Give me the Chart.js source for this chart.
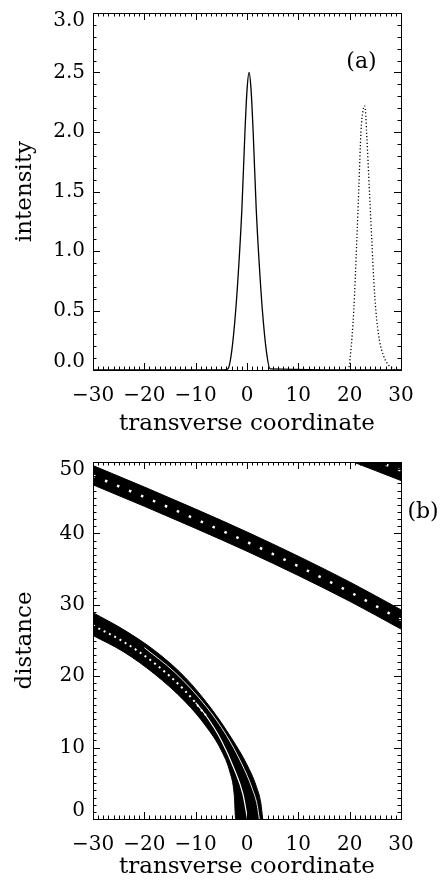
<!DOCTYPE html>
<html>
<head>
<meta charset="utf-8">
<title>intensity / distance</title>
<script src="https://cdn.jsdelivr.net/npm/chart.js@4.4.0/dist/chart.umd.min.js"></script>
<style>
  html, body { margin: 0; padding: 0; background: #fff; }
  .panel { position: relative; width: 441px; height: 441px; }
</style>
</head>
<body>
<div class="panel"><canvas id="chart-a" width="441" height="441"></canvas></div>
<div class="panel"><canvas id="chart-b" width="441" height="441"></canvas></div>
<script>
// tick values
const xTicks = [-30, -20, -10, 0, 10, 20, 30];
const intensityTicks = [0, 0.5, 1, 1.5, 2, 2.5, 3];
const distanceTicks = [0, 10, 20, 30, 40, 50];

// (a) input beam (solid) and output beam (dotted)
const inputX = [-30, -4.5, -3.7, -3, -2.2, -1.5, -1, -0.4, 0, 0.4, 0.8, 1.2, 1.8, 2.3, 3, 3.8, 4.5, 30];
const inputY = [0, 0, 0.01, 0.15, 0.5, 0.95, 1.35, 2.0, 2.35, 2.5, 2.35, 2.0, 1.35, 0.95, 0.5, 0.15, 0.01, 0];
const outputX = [19, 19.7, 20.2, 20.8, 21.4, 21.8, 22.2, 22.6, 22.9, 23.1, 23.3, 23.8, 24.3, 24.7, 25.1, 25.8, 26.6, 27.4, 28.2, 29, 30];
const outputY = [0, 0, 0.15, 0.5, 1.1, 1.55, 2.0, 2.18, 2.22, 2.17, 2.0, 1.55, 1.1, 0.75, 0.5, 0.25, 0.12, 0.05, 0.02, 0, 0];

// (b) lower beam track: outer and inner edges
const lowOuterX = [-30, -24, -18, -12, -7, -3, 0, 1.8, 2.7, 3.06];
const lowOuterY = [28.9, 26.5, 23.6, 19.8, 15.5, 11.3, 7.6, 4.6, 2.2, 0];
const lowInnerX = [-30, -24, -18, -12, -8, -5, -3.3, -2.5, -2.2, 3.06];
const lowInnerY = [25.7, 23.4, 20.3, 16.4, 13.0, 9.6, 6.5, 3.5, 0, 0];
// white streaks inside the lower track
const lowDotsX = [-30, -24, -18, -12, -8];
const lowDotsY = [27.1, 24.8, 21.8, 17.9, 14.5];
const lowCoreX = [-10, -8, -5, -2.5, -0.8, 0.1];
const lowCoreY = [16.3, 14.5, 11.0, 7.0, 3.5, 0];
const lowGapX = [-20, -14, -8, -4, -1, 1.0, 2.0, 2.4];
const lowGapY = [24.0, 20.5, 15.8, 11.7, 7.7, 4.3, 1.9, 0];

// (b) middle track
const midTopX = [-30, -20, -10, 0, 10, 20, 30];
const midTopY = [49.5, 46.5, 43.4, 40.2, 36.8, 33.2, 29.3];
const midBotX = [-30, -20, -10, 0, 10, 20, 30];
const midBotY = [46.8, 43.8, 40.7, 37.5, 34.1, 30.5, 26.6];
const midDotsX = [-30, -20, -10, 0, 10, 20, 30];
const midDotsY = [48.1, 45.1, 42.0, 38.8, 35.4, 31.8, 27.9];

// (b) top-right track
const topTopX = [20, 25, 30];
const topTopY = [53.0, 51.6, 50.2];
const topBotX = [20, 25, 30];
const topBotY = [50.2, 48.8, 47.4];
const topDotsX = [20, 25, 30];
const topDotsY = [51.6, 50.2, 48.8];

const FONT = "'DejaVu Serif', 'Liberation Serif', serif";

const pts = (xs, ys) => xs.map((x, i) => ({ x: x, y: ys[i] }));
const minus = v => (v < 0 ? '\u2212' + Math.abs(v) : String(v));
// shift the end labels inward like the original
const edgeLabel = (txt, v, lo, hi) => {
    if (v === hi) return ['', txt];
    if (v === lo) return [txt, ''];
    return txt;
};

// frame with inward major/minor ticks on all four sides
const frameTicks = {
    id: 'frameTicks',
    afterDatasetsDraw(chart, args, opts) {
        const { ctx, chartArea: a } = chart;
        const sx = chart.scales.x, sy = chart.scales.y;
        ctx.save();
        ctx.strokeStyle = '#000';
        ctx.lineWidth = 1;
        ctx.beginPath();
        const nx = Math.round((sx.max - sx.min) / opts.xMinor);
        for (let i = 0; i <= nx; i++) {
            const px = Math.round(sx.getPixelForValue(sx.min + i * opts.xMinor)) + 0.5;
            const len = i % opts.xEvery === 0 ? 7 : 3.5;
            ctx.moveTo(px, a.bottom); ctx.lineTo(px, a.bottom - len);
            ctx.moveTo(px, a.top); ctx.lineTo(px, a.top + len);
        }
        const ny = Math.round((sy.max - sy.min) / opts.yMinor);
        for (let i = 0; i <= ny; i++) {
            const py = Math.round(sy.getPixelForValue(sy.min + i * opts.yMinor)) + 0.5;
            const len = i % opts.yEvery === 0 ? 7 : 3.5;
            ctx.moveTo(a.left, py); ctx.lineTo(a.left + len, py);
            ctx.moveTo(a.right, py); ctx.lineTo(a.right - len, py);
        }
        ctx.stroke();
        ctx.strokeRect(Math.round(a.left) + 0.5, Math.round(a.top) + 0.5,
            Math.round(a.right) - Math.round(a.left), Math.round(a.bottom) - Math.round(a.top));
        ctx.restore();
    }
};

const panelLabel = {
    id: 'panelLabel',
    afterDraw(chart, args, opts) {
        const ctx = chart.ctx;
        ctx.save();
        ctx.font = '22px ' + FONT;
        ctx.fillStyle = '#000';
        ctx.textAlign = 'center';
        ctx.textBaseline = 'middle';
        ctx.fillText(opts.text, chart.scales.x.getPixelForValue(opts.x), chart.scales.y.getPixelForValue(opts.y));
        ctx.restore();
    }
};

function xScale(height, titlePad) {
    return {
        type: 'linear', min: -30, max: 30,
        afterBuildTicks: s => { s.ticks = xTicks.map(v => ({ value: v })); },
        afterFit: s => { s.height = height; },
        grid: { display: false, drawTicks: false },
        border: { display: false },
        ticks: {
            padding: 14, color: '#000', autoSkip: false, maxRotation: 0,
            font: { family: FONT, size: 20 },
            callback: v => minus(v)
        },
        title: {
            display: true, text: 'transverse coordinate', color: '#000',
            font: { family: FONT, size: 23 },
            padding: { top: 0, bottom: titlePad }
        }
    };
}

function yScale(min, max, ticks, fmt, title) {
    return {
        type: 'linear', min: min, max: max,
        afterBuildTicks: s => { s.ticks = ticks.map(v => ({ value: v })); },
        afterFit: s => { s.width = 93; s.paddingTop = 0; s.paddingBottom = 0; },
        grid: { display: false, drawTicks: false },
        border: { display: false },
        ticks: {
            padding: 8, color: '#000', autoSkip: false,
            font: { family: FONT, size: 20, lineHeight: 0.8 },
            callback: v => edgeLabel(fmt(v), v, min, max)
        },
        title: {
            display: true, text: title, color: '#000',
            font: { family: FONT, size: 23 },
            padding: { top: 11, bottom: 0 }
        }
    };
}

const common = {
    responsive: false,
    animation: false,
    events: [],
    elements: { point: { radius: 0 } }
};

document.addEventListener('DOMContentLoaded', () => {
    // panel (a)
    new Chart(document.getElementById('chart-a').getContext('2d'), {
        type: 'line',
        data: {
            datasets: [
                {
                    data: pts(inputX, inputY),
                    borderColor: '#000', borderWidth: 1.3,
                    cubicInterpolationMode: 'monotone', fill: false
                },
                {
                    data: pts(outputX, outputY),
                    borderColor: '#000', borderWidth: 1.3, borderDash: [1.2, 2.2],
                    cubicInterpolationMode: 'monotone', fill: false
                }
            ]
        },
        options: Object.assign({}, common, {
            layout: { padding: { top: 13, right: 40, left: 0, bottom: 0 } },
            scales: {
                x: xScale(71, 3),
                y: yScale(0, 3, intensityTicks, v => v.toFixed(1), 'intensity')
            },
            plugins: {
                legend: { display: false },
                tooltip: { enabled: false },
                frameTicks: { xMinor: 1, xEvery: 10, yMinor: 0.1, yEvery: 5 },
                panelLabel: { text: '(a)', x: 22.3, y: 2.59 }
            }
        }),
        plugins: [frameTicks, panelLabel]
    });

    // panel (b)
    const edge = (xs, ys, fill) => ({
        data: pts(xs, ys),
        borderColor: '#000', borderWidth: 1,
        backgroundColor: '#000',
        cubicInterpolationMode: 'monotone',
        fill: fill, order: 2
    });
    const streak = (xs, ys, width, dash) => ({
        data: pts(xs, ys),
        borderColor: '#fff', borderWidth: width, borderDash: dash,
        cubicInterpolationMode: 'monotone',
        fill: false, order: 0
    });

    new Chart(document.getElementById('chart-b').getContext('2d'), {
        type: 'line',
        data: {
            datasets: [
                edge(lowOuterX, lowOuterY, false),
                edge(lowInnerX, lowInnerY, '-1'),
                edge(midTopX, midTopY, false),
                edge(midBotX, midBotY, '-1'),
                edge(topTopX, topTopY, false),
                edge(topBotX, topBotY, '-1'),
                streak(lowDotsX, lowDotsY, 2, [2, 4]),
                streak(lowCoreX, lowCoreY, 1.2, []),
                streak(lowGapX, lowGapY, 0.9, []),
                streak(midDotsX, midDotsY, 2.5, [2.5, 10.5]),
                streak(topDotsX, topDotsY, 2.5, [2.5, 10.5])
            ]
        },
        options: Object.assign({}, common, {
            layout: { padding: { top: 21, right: 40, left: 0, bottom: 0 } },
            scales: {
                x: xScale(63, 1),
                y: yScale(0, 50, distanceTicks, v => String(v), 'distance')
            },
            plugins: {
                legend: { display: false },
                tooltip: { enabled: false },
                frameTicks: { xMinor: 1, xEvery: 10, yMinor: 1, yEvery: 10 },
                panelLabel: { text: '(b)', x: 34.3, y: 43.0 }
            }
        }),
        plugins: [frameTicks, panelLabel]
    });
});
</script>
</body>
</html>
